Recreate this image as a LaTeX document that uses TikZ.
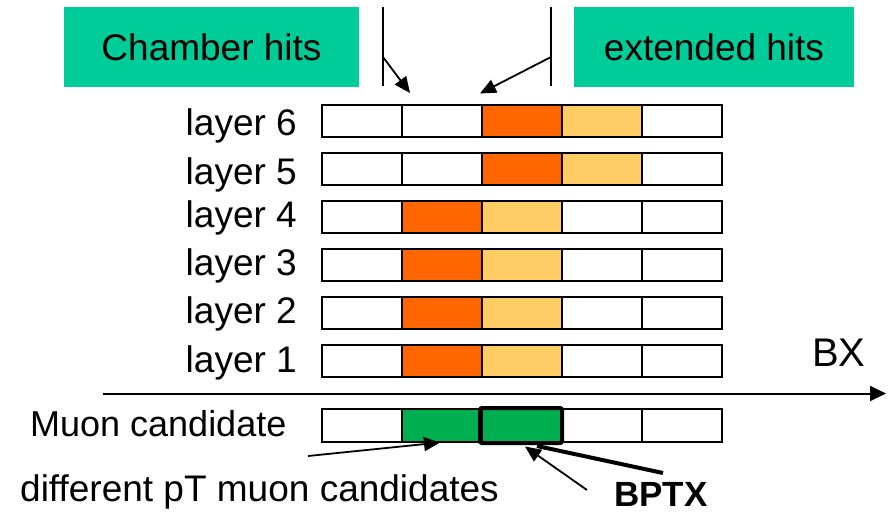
\documentclass[tikz,border=0pt]{standalone}
\usepackage{fontspec}
\setmainfont{Liberation Sans}
\usetikzlibrary{arrows.meta}
\definecolor{boxgreen}{RGB}{0,204,153}
\definecolor{hitorange}{RGB}{255,102,0}
\definecolor{hitlight}{RGB}{255,204,102}
\definecolor{candgreen}{RGB}{0,176,80}
\begin{document}
\begin{tikzpicture}[x=1pt,y=-1pt,
  cell/.style={draw=black,line width=2pt,minimum width=80pt,minimum height=32pt,inner sep=0pt,outer sep=0pt},
  lbl/.style={font=\fontsize{37}{44}\selectfont,inner sep=0pt,anchor=base east},
  greenbox/.style={fill=boxgreen,minimum height=80pt,inner sep=0pt,font=\fontsize{37}{44}\selectfont},
  ptr/.style={line width=1.8pt,-{Triangle[length=16pt,width=14pt]}},
  thinline/.style={line width=1.8pt}]
\useasboundingbox (0,0) rectangle (895,515);
% green title boxes
\node[greenbox,minimum width=295pt] (chamber) at (211.5,47) {Chamber hits};
\node[greenbox,minimum width=280pt] (extended) at (714,47) {extended hits};
% layer rows
\foreach \k/\base in {6/135,5/184,4/227,3/275,2/323,1/372}{
  \pgfmathsetmacro{\yc}{120.5+48.1*(6-\k)}
  \foreach \j in {1,...,5}{
    \node[cell] (c\k-\j) at ({361.5+80*(\j-1)},\yc) {};
  }
  \node[lbl] (l\k) at (297,\base) {layer \k};
}
% hits
\foreach \k in {6,5}{
  \node[cell,fill=hitorange] at (c\k-3) {};
  \node[cell,fill=hitlight] at (c\k-4) {};
}
\foreach \k in {4,3,2,1}{
  \node[cell,fill=hitorange] at (c\k-2) {};
  \node[cell,fill=hitlight] at (c\k-3) {};
}
% BX axis
\coordinate (axs) at (103,393.5);
\coordinate (axe) at (886,393.5);
\draw[line width=2pt,-{Triangle[length=16pt,width=15pt]}] (axs) -- (axe);
\node[font=\fontsize{40}{48}\selectfont,inner sep=0pt,anchor=base west] (bx) at (812,366) {BX};
% muon candidate row
\foreach \j in {1,...,5}{
  \node[cell,minimum height=33pt] (m\j) at ({361.5+80*(\j-1)},425.5) {};
}
\node[cell,minimum height=33pt,fill=candgreen] at (m2) {};
\node[cell,minimum height=33pt,fill=candgreen] at (m3) {};
\node[draw=black,line width=4pt,rounded corners=2pt,minimum width=82pt,minimum height=35pt,inner sep=0pt] (bptxbox) at (521,425.5) {};
\node[font=\fontsize{36}{44}\selectfont,inner sep=0pt,anchor=base west] (mclbl) at (30,436) {Muon candidate};
\node[font=\fontsize{37}{44}\selectfont,inner sep=0pt,anchor=base west] (ptlbl) at (20,501) {different pT muon candidates};
\node[font=\fontsize{35}{42}\selectfont\bfseries,inner sep=0pt,anchor=base west] (bptx) at (614,506) {BPTX};
% top markers
\coordinate (v1t) at (383,7); \coordinate (v1b) at (383,86); \coordinate (v1m) at (383,57);
\coordinate (v2t) at (551,7); \coordinate (v2b) at (551,86); \coordinate (v2m) at (551,57);
\coordinate (t1) at (410,93); \coordinate (t2) at (480,93.5);
\draw[thinline] (v1t) -- (v1b);
\draw[thinline] (v2t) -- (v2b);
\draw[ptr] (v1m) -- (t1);
\draw[ptr] (v2m) -- (t2);
% bottom pointers
\coordinate (pts) at (308,456); \coordinate (ptt) at (440,442.5);
\draw[ptr] (pts) -- (ptt);
\coordinate (bps) at (587,490); \coordinate (bpt) at (525,446.5);
\draw[ptr] (bps) -- (bpt);
\coordinate (bks) at (663,473); \coordinate (bke) at (537,446);
\draw[line width=4pt] (bks) -- (bke);
\end{tikzpicture}
\end{document}
